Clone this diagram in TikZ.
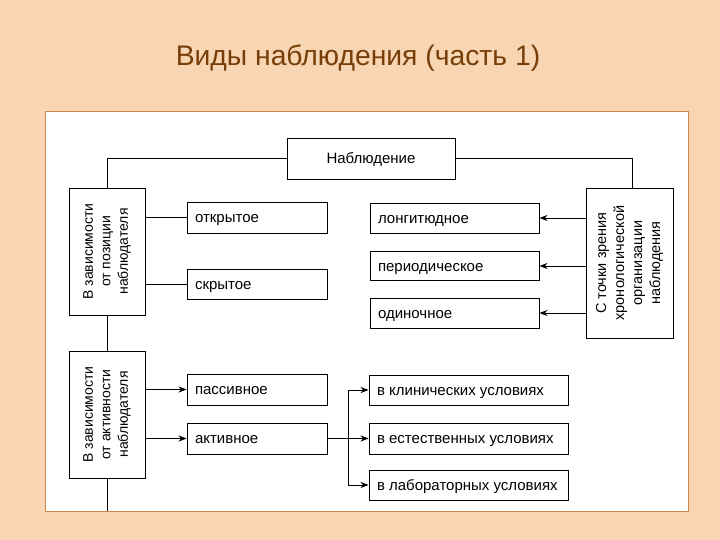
\documentclass[tikz,border=0pt]{standalone}
\usepackage{fontspec}
\setmainfont{Liberation Sans}
\usepackage{xcolor}
\usetikzlibrary{arrows.meta, positioning}
\definecolor{bgpeach}{RGB}{248, 214, 180}
\definecolor{framebrown}{RGB}{205, 135, 80}
\definecolor{titlebrown}{RGB}{120, 62, 8}

\begin{document}
\begin{tikzpicture}[x=1pt,y=-1pt,
    box/.style={draw,line width=0.9pt,inner xsep=8pt,inner ysep=0pt,text height=14pt,text depth=3.5pt,font=\fontsize{15}{17}\selectfont,
      execute at begin node={\hbox to #1\bgroup},execute at end node={\hfil\egroup}},
    frame/.style={draw,line width=0.9pt},
    vtext/.style={rotate=90,align=center,font=\fontsize{14}{17.5}\selectfont},
    link/.style={line width=0.8pt},
    arr/.style={line width=0.8pt,-{Stealth[length=8pt,width=6pt]}}]
        \fill[bgpeach](0,0) rectangle (720,540);
        \draw[framebrown,fill=white,line width=0.8pt](45,111) rectangle (688,511);
        \node[titlebrown,font=\fontsize{28.3}{32}\selectfont] (title) at (358,58){Виды наблюдения (часть 1)};
        \node[draw,line width=0.9pt,text height=14pt,text depth=3.5pt,font=\fontsize{15}{17}\selectfont,minimum width=168,minimum height=41] (nab) at (371,158.5){Наблюдение};
        \node[frame,minimum width=76,minimum height=127] (posBox) at (107,251.5){};
        \node[vtext] (posTxt) at (posBox){В зависимости\\от позиции\\наблюдателя};
        \node[box=124pt,minimum height=31] (otkr) at (257,217.5){открытое};
        \node[box=124pt,minimum height=30] (skr) at (257,284.5){скрытое};
        \node[frame,minimum width=76,minimum height=127] (actBox) at (107,414.5){};
        \node[vtext] (actTxt) at (actBox){В зависимости\\от активности\\наблюдателя};
        \node[box=124pt,minimum height=31] (pass) at (257,389.5){пассивное};
        \node[box=124pt,minimum height=31] (akt) at (257,438.5){активное};
        \node[box=153pt,minimum height=30] (long) at (454.5,218){лонгитюдное};
        \node[box=153pt,minimum height=29] (per) at (454.5,266){периодическое};
        \node[box=153pt,minimum height=30] (odin) at (454.5,313){одиночное};
        \node[frame,minimum width=87,minimum height=150] (chron) at (629.5,263){};
        \node[vtext,font=\fontsize{14.5}{18}\selectfont] (chronTxt) at (chron){С точки зрения\\хронологической\\организации\\наблюдения};
        \node[box=183pt,minimum height=30] (klin) at (468.5,390){в клинических условиях};
        \node[box=183pt,minimum height=31] (est) at (468.5,438.5){в естественных условиях};
        \node[box=183pt,minimum height=30] (lab) at (468.5,485){в лабораторных условиях};
        \coordinate (tail) at (107,511);
        \coordinate (fork) at (348,438.5);
        \draw[link](nab.west) -| (posBox.north);
        \draw[link](nab.east) -| ([xshift=3]chron.north);
        \draw[link](posBox.east |- otkr) -- (otkr.west);
        \draw[link](posBox.east |- skr) -- (skr.west);
        \draw[link](posBox.south) -- (actBox.north);
        \draw[link](actBox.south) -- (tail);
        \draw[arr](actBox.east |- pass) -- (pass.west);
        \draw[arr](actBox.east |- akt) -- (akt.west);
        \draw[link](akt.east) -- (fork);
        \draw[arr](fork) |- (klin.west);
        \draw[arr](fork) -- (est.west);
        \draw[arr](fork) |- (lab.west);
        \draw[arr](chron.west |- long) -- (long.east);
        \draw[arr](chron.west |- per) -- (per.east);
        \draw[arr](chron.west |- odin) -- (odin.east);
      \end{tikzpicture}
\end{document}
